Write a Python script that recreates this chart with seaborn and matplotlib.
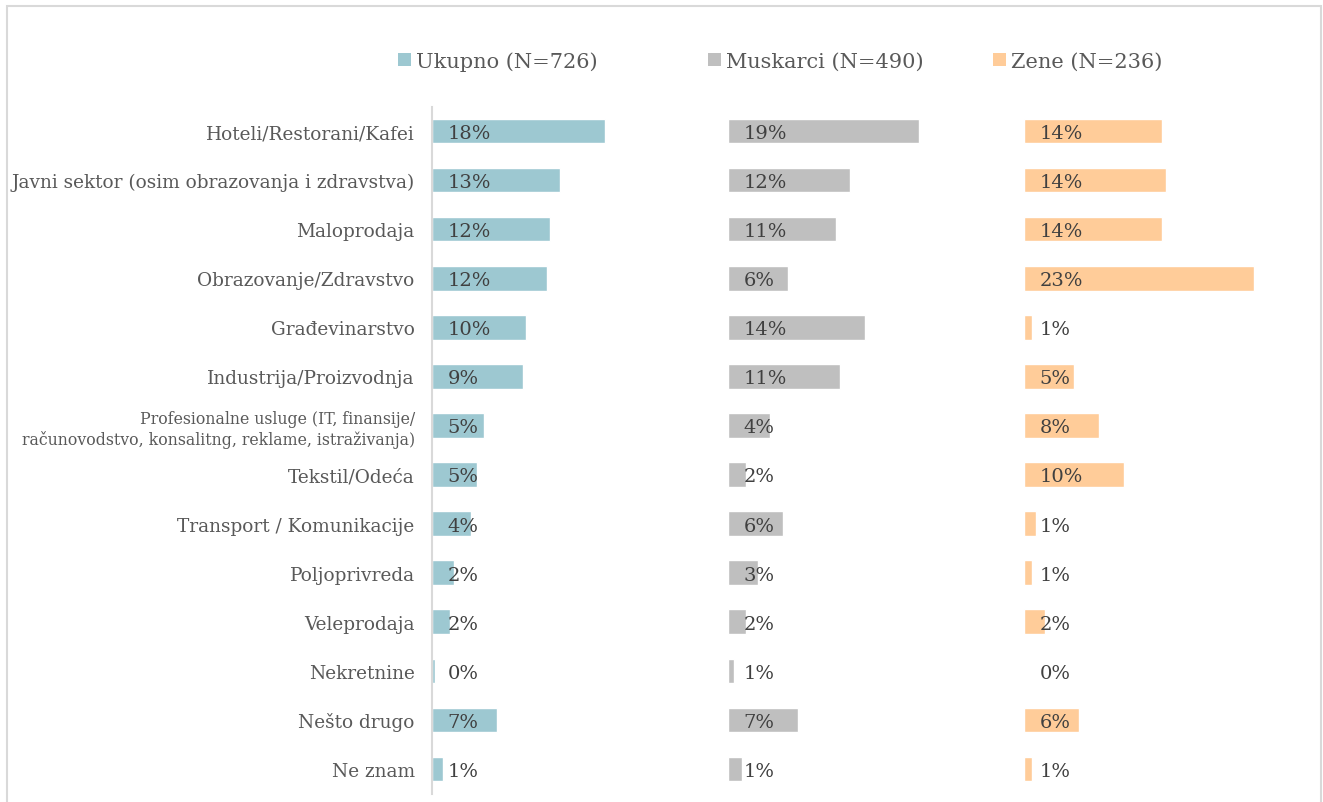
import matplotlib
matplotlib.use("Agg")
import matplotlib.pyplot as plt
import matplotlib.patches as mpatches
import seaborn as sns
import pandas as pd

categories = [
    "Hoteli/Restorani/Kafei",
    "Javni sektor (osim obrazovanja i zdravstva)",
    "Maloprodaja",
    "Obrazovanje/Zdravstvo",
    "Građevinarstvo",
    "Industrija/Proizvodnja",
    "Profesionalne usluge (IT, finansije/\nračunovodstvo, konsalitng, reklame, istraživanja)",
    "Tekstil/Odeća",
    "Transport / Komunikacije",
    "Poljoprivreda",
    "Veleprodaja",
    "Nekretnine",
    "Nešto drugo",
    "Ne znam",
]
groups = ["Ukupno (N=726)", "Muskarci (N=490)", "Zene (N=236)"]
ukupno = [17.5, 13.0, 12.0, 11.7, 9.5, 9.2, 5.3, 4.6, 4.0, 2.2, 1.8, 0.3, 6.6, 1.1]
muskarci = [19.4, 12.4, 10.9, 6.1, 13.9, 11.4, 4.3, 1.8, 5.6, 3.0, 1.8, 0.6, 7.1, 1.4]
zene = [14.0, 14.4, 14.0, 23.3, 0.8, 5.1, 7.6, 10.1, 1.2, 0.8, 2.1, 0.0, 5.6, 0.8]
colors = ["#9DC8D1", "#BFBFBF", "#FFCC99"]

series = [ukupno, muskarci, zene]
df = pd.concat(
    [pd.DataFrame({"category": categories, "group": g, "value": v}) for g, v in zip(groups, series)],
    ignore_index=True,
)

sns.set_style("white")
plt.rcParams["font.family"] = ["DejaVu Serif"]

W, H = 1323, 803
fig = plt.figure(figsize=(W / 100, H / 100), dpi=100)

# light frame
fig.patches.append(mpatches.Rectangle((7 / W, -0.05), (1321 - 7) / W, 1.05 - 7 / H,
                                      transform=fig.transFigure, fill=False,
                                      edgecolor="#D9D9D9", linewidth=1.5))

left = 432 / W
pw = 296 / W
top = 1 - 107.5 / H
bottom = 1 - 794.5 / H
for k, (g, c) in enumerate(zip(groups, colors)):
    ax = fig.add_axes([left + k * pw, bottom, pw, top - bottom])
    sub = df[df["group"] == g]
    sns.barplot(data=sub, y="category", x="value", color=c, ax=ax,
                orient="h", width=0.5, saturation=1, order=categories)
    ax.set_xlim(0, 30)
    ax.set_ylim(len(categories) - 0.5, -0.5)
    ax.set_xlabel("")
    ax.set_ylabel("")
    ax.set_xticks([])
    for s in ["top", "right", "bottom"]:
        ax.spines[s].set_visible(False)
    if k == 0:
        ax.spines["left"].set_color("#D9D9D9")
        ax.spines["left"].set_linewidth(1.5)
        ax.tick_params(axis="y", length=0, pad=12.5, labelsize=13.3, labelcolor="#595959")
        for lab in ax.get_yticklabels():
            if "\n" in lab.get_text():
                lab.set_fontsize(11.3)
    else:
        ax.spines["left"].set_visible(False)
        ax.set_yticks([])
    for i, v in enumerate(sub["value"]):
        ax.text(1.6, i + 0.04, f"{v:.0f}%", ha="left", va="center", fontsize=14, color="#404040")
    ax.patch.set_alpha(0)

legend_x = [398, 708, 993]
for g, c, x in zip(groups, colors, legend_x):
    h = mpatches.Patch(facecolor=c, edgecolor="none", label=g)
    fig.legend(handles=[h], loc="center left", bbox_to_anchor=(x / W, 1 - 62 / H),
               frameon=False, fontsize=15, handlelength=0.6, handleheight=0.6,
               handletextpad=0.25, borderpad=0, borderaxespad=0, labelcolor="#595959")

fig.savefig("out.png", dpi=100)
